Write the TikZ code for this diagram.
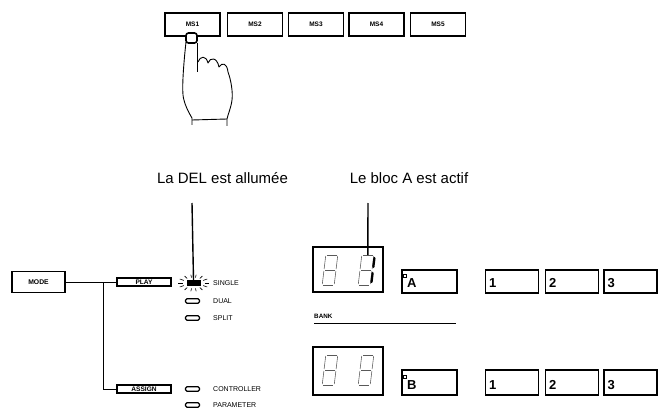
\documentclass[tikz,border=0pt]{standalone}
\usepackage{fontspec}
\setmainfont{Liberation Sans}
\usetikzlibrary{calc}
\begin{document}
\begin{tikzpicture}[x=1pt,y=-1pt,
  key/.style={draw, line width=1.3pt, minimum width=55pt, minimum height=23pt, inner sep=0pt,
    font=\fontsize{6.5}{7}\selectfont\bfseries},
  modebox/.style={draw, line width=1.2pt, minimum width=53pt, minimum height=21pt, inner sep=0pt,
    font=\fontsize{6.8}{7}\selectfont\bfseries},
  thinbox/.style={draw, line width=1.2pt, minimum width=54pt, minimum height=8pt, inner sep=0pt,
    font=\fontsize{6.6}{6.6}\selectfont\bfseries},
  ledoff/.style={draw, line width=1.1pt, rounded corners=1.5pt, minimum width=14pt, minimum height=4.5pt, inner sep=0pt},
  ledon/.style={fill=black, minimum width=14pt, minimum height=5.5pt, inner sep=0pt},
  ledtext/.style={anchor=west, inner sep=0pt, font=\fontsize{7}{7}\selectfont},
  caption/.style={anchor=base, inner sep=0pt, font=\fontsize{15}{15}\selectfont},
  display/.style={draw, line width=1.4pt, minimum width=70pt, inner sep=0pt},
  panel/.style={draw, line width=1.1pt, minimum width=55pt, inner sep=0pt},
  panelnum/.style={anchor=base west, inner sep=0pt, font=\fontsize{13}{13}\selectfont\bfseries},
  pointer/.style={line width=1.4pt},
  wire/.style={line width=0.8pt},
  segoff/.style={line width=0.55pt, draw=black!65},
  segon/.style={line width=2.2pt, line cap=round},
  ray/.style={line width=0.6pt},
  hand/.style={line width=0.9pt, line join=round}]

\useasboundingbox (0,0) rectangle (658,409);
\fill[white] (0,0) rectangle (658,409);

% ---- memory select keys ----
\node[key] (ms1) at (192.5,24.5) {MS1};
\node[key] (ms2) at (255,24.5) {MS2};
\node[key] (ms3) at (316,24.5) {MS3};
\node[key] (ms4) at (376.5,24.5) {MS4};
\node[key] (ms5) at (438,24.5) {MS5};

% ---- hand pressing MS1 ----
\draw[hand] (186,42) .. controls (184,60) and (182,84) .. (183,95)
  .. controls (184,104) and (189,113) .. (192,118) -- (192,125);
\draw[hand] (192,120) -- (227,119);
\draw[hand] (197,43) -- (197,72);
\draw[hand] (198,62) .. controls (200,56) and (206,55) .. (208,63)
  .. controls (210,57) and (217,57) .. (219,67)
  .. controls (222,62) and (227,63) .. (228,72)
  .. controls (231,80) and (233,92) .. (232,100)
  .. controls (231,108) and (228,114) .. (227,119) -- (227,126);
\draw[line width=1.6pt, rounded corners=2.5pt, fill=white] (186,33) rectangle (197,43);

% ---- captions ----
\node[caption] (capled) at (222.5,183) {La DEL est allumée};
\node[caption] (capbank) at (409,183) {Le bloc A est actif};
\coordinate (capledfoot) at (192,203);
\coordinate (capbankfoot) at (368,203);

% ---- mode selection ----
\node[modebox] (mode) at (38.5,282) {MODE};
\node[thinbox] (play) at (144,282) {PLAY};
\node[thinbox] (assign) at (144,389) {ASSIGN};
\coordinate (junction) at (103,282);
\draw[wire] (mode.east) -- (play.west);
\draw[wire] (junction) |- (assign.west);

% ---- LEDs ----
\node[ledon] (single) at (193.5,283) {};
\node[ledoff] (dual) at (192.5,301) {};
\node[ledoff] (split) at (192.5,318) {};
\node[ledoff] (controller) at (192.5,389) {};
\node[ledoff] (parameter) at (192.5,405) {};
\node[ledtext] (tsingle) at (213,283) {SINGLE};
\node[ledtext] (tdual) at (213,301) {DUAL};
\node[ledtext] (tsplit) at (213,318) {SPLIT};
\node[ledtext] (tcontroller) at (213,389) {CONTROLLER};
\node[ledtext] (tparameter) at (213,405) {PARAMETER};
\foreach \a in {0,28,55,80,100,125,152,180,208,235,260,280,305,332}
  \draw[ray] ($(single)+({11*cos(\a)},{5.5*sin(\a)})$) -- ($(single)+({15.5*cos(\a)},{8.5*sin(\a)})$);

\draw[pointer] (capledfoot) -- (single.north);

% ---- bank displays ----
\node[display, minimum height=45pt] (dispA) at (348,269.5) {};
\node[display, minimum height=48pt] (dispB) at (348,371) {};

% seven-segment digits: unlit outline
\foreach \cx/\cy in {330/270, 366/270, 330/370, 366/370} {
  \begin{scope}[shift={(\cx,\cy)}, xslant=0.12]
    \draw[segoff] (-5,-15) -- (5,-15);
    \draw[segoff] (6,-14) -- (6,-1);
    \draw[segoff] (6,1) -- (6,14);
    \draw[segoff] (-5,15) -- (5,15);
    \draw[segoff] (-6,1) -- (-6,14);
    \draw[segoff] (-6,-14) -- (-6,-1);
    \draw[segoff] (-5,0) -- (5,0);
  \end{scope}
}
% lit digit "1"
\begin{scope}[shift={(366,270)}, xslant=0.12]
  \draw[segon] (7,-12) -- (7,-3);
  \draw[segon] (7,3) -- (7,12);
  \coordinate (digittop) at (0,-15);
\end{scope}
\draw[pointer] (capbankfoot) -- (digittop);

% bank select keys
\node[panel, minimum height=23pt] (bankA) at (429.5,281.5) {};
\node[panel, minimum height=25pt] (bankB) at (429.5,382.5) {};
\node[panelnum] (labA) at (407,287) {A};
\node[panelnum] (labB) at (407,389) {B};
\node[draw, line width=0.6pt, minimum size=3pt, inner sep=0pt] (ledA) at (404.5,276) {};
\node[draw, line width=0.6pt, minimum size=3pt, inner sep=0pt] (ledB) at (404.5,377) {};

\foreach \n/\x in {1/512, 2/572, 3/630.5} {
  \node[panel, minimum height=23pt, minimum width=53pt] (rowA\n) at (\x,281.5) {};
  \node[panelnum] (numA\n) at ($(rowA\n.west)+(4,5.5)$) {\n};
  \node[panel, minimum height=25pt, minimum width=53pt] (rowB\n) at (\x,382.5) {};
  \node[panelnum] (numB\n) at ($(rowB\n.west)+(4,6.5)$) {\n};
}

% BANK legend and rule
\node[anchor=base west, inner sep=0pt, font=\fontsize{6.3}{6.3}\selectfont\bfseries] (bank) at (314,318) {BANK};
\coordinate (rulestart) at (314,323);
\coordinate (ruleend) at (456,323);
\draw[line width=0.8pt] (rulestart) -- (ruleend);

\end{tikzpicture}
\end{document}
